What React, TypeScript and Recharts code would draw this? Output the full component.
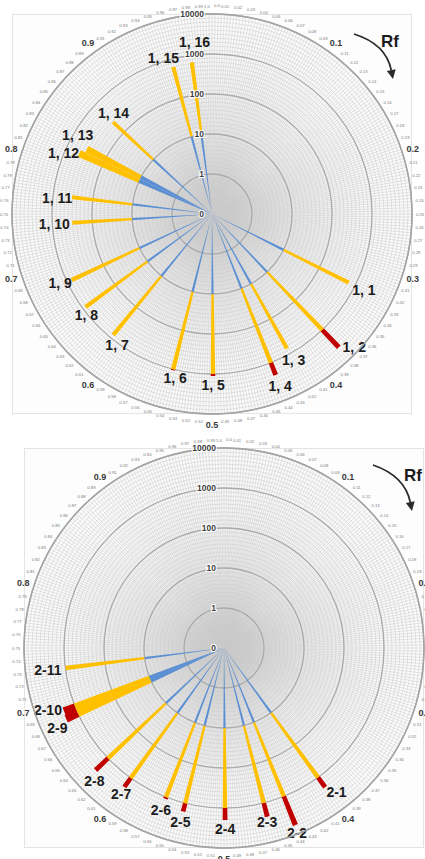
import React from 'react';
import { RadarChart, Radar, PolarGrid, PolarAngleAxis, PolarRadiusAxis, Sector } from 'recharts';

// ---------------- data ----------------
const plate1Spots = ['1, 1', '1, 2', '1, 3', '1, 4', '1, 5', '1, 6', '1, 7', '1, 8', '1, 9', '1, 10', '1, 11', '1, 12', '1, 13', '1, 14', '1, 15', '1, 16'];
const plate1Rf = [0.324, 0.379, 0.419, 0.44, 0.499, 0.539, 0.609, 0.649, 0.68, 0.74, 0.769, 0.818, 0.826, 0.869, 0.959, 0.979];
const plate1Value = [668, 3980, 708, 2110, 1120, 1060, 794, 841, 750, 316, 335, 447, 335, 237, 631, 668];
const plate1SpotWidth = [0.0045, 0.0045, 0.0045, 0.0045, 0.0045, 0.0045, 0.0045, 0.0045, 0.0045, 0.0045, 0.0045, 0.008, 0.008, 0.0045, 0.0045, 0.0045];

const plate2Spots = ['2-1', '2-2', '2-3', '2-4', '2-5', '2-6', '2-7', '2-8', '2-9', '2-10', '2-11'];
const plate2Rf = [0.4, 0.439, 0.46, 0.499, 0.539, 0.559, 0.599, 0.629, 0.683, 0.69, 0.73];
const plate2Value = [1995, 5960, 2240, 1995, 1640, 1120, 1880, 2690, 2110, 1995, 980];
const plate2SpotWidth = [0.0045, 0.0045, 0.0045, 0.0045, 0.0045, 0.0045, 0.0045, 0.0045, 0.0075, 0.0075, 0.0045];

const radiusTickLabels = ['0', '1', '10', '100', '1000', '10000'];
const rfMajorLabels = ['0.1', '0.2', '0.3', '0.4', '0.5', '0.6', '0.7', '0.8', '0.9'];

const BLUE_LIMIT = 10;
const YELLOW_LIMIT = 1000;

// ---------------- helpers ----------------
const toAxis = (v: number) => (v > 0 ? Math.log10(v) + 1 : 0);

function buildRows(names: string[], rf: number[], values: number[], widths: number[]) {
  return names.map((name, i) => ({
    name,
    rf: rf[i],
    width: widths[i],
    blueEnd: toAxis(Math.min(values[i], BLUE_LIMIT)),
    yellowEnd: toAxis(Math.min(values[i], YELLOW_LIMIT)),
    redEnd: toAxis(values[i]),
  }));
}

const plate1Rows = buildRows(plate1Spots, plate1Rf, plate1Value, plate1SpotWidth);
const plate2Rows = buildRows(plate2Spots, plate2Rf, plate2Value, plate2SpotWidth);

const OUTER = 200;
const RADIUS_MAX = radiusTickLabels.length - 1;
const angleGridTicks = Array.from({ length: 400 }, (_, i) => i / 400);
const minorRadiusTicks = Array.from({ length: RADIUS_MAX * 10 + 1 }, (_, i) => i / 10);
const majorRadiusPx = radiusTickLabels.map((_, i) => (i / RADIUS_MAX) * OUTER);

const BLUE = '#5b8fd3';
const YELLOW = '#ffc000';
const RED = '#c00000';
const FONT = 'Arial, "Liberation Sans", sans-serif';

const plate1Nudge: Record<string, [number, number]> = {
  '1, 2': [5, -11],
  '1, 6': [5, -3],
  '1, 7': [13, -1],
  '1, 8': [14, -2],
  '1, 9': [4, -4],
  '1, 11': [3, 3],
  '1, 12': [0, 7],
  '1, 13': [6, -6],
  '1, 14': [12, 1],
  '1, 15': [-7, 2],
  '1, 16': [4, -10],
};
const plate2Nudge: Record<string, [number, number]> = {
  '2-1': [3, -7],
  '2-2': [-3, -4],
  '2-3': [-3, -5],
  '2-7': [5, -5],
  '2-8': [10, 0],
  '2-9': [7, 2],
  '2-10': [0, -8],
};

function segmentShape(color: string, innerKey: string | null, outerKey: string) {
  return (props: any) => {
    const pts = props.points || [];
    return (
      <g>
        {pts.map((p: any, i: number) => {
          const row = p.payload;
          const outerVal = row[outerKey];
          const innerVal = innerKey ? row[innerKey] : 0;
          if (!(outerVal > innerVal) || !isFinite(p.radius)) return null;
          const inner = (p.radius * innerVal) / outerVal;
          const half = row.width * 180;
          return (
            <Sector
              key={i}
              cx={p.cx}
              cy={p.cy}
              innerRadius={inner}
              outerRadius={p.radius}
              startAngle={p.angle - half}
              endAngle={p.angle + half}
              fill={color}
              stroke="none"
            />
          );
        })}
      </g>
    );
  };
}

function labelShape(nudges: Record<string, [number, number]>) {
  return (props: any) => {
    const pts = props.points || [];
    return (
      <g>
        {pts.map((p: any, i: number) => {
          const rad = (-p.angle * Math.PI) / 180;
          const ux = Math.cos(rad);
          const uy = Math.sin(rad);
          const d = 9 + 9 * Math.abs(ux);
          const n = nudges[p.payload.name] || [0, 0];
          return (
            <text
              key={i}
              x={p.x + ux * d + n[0]}
              y={p.y + uy * d + n[1]}
              textAnchor="middle"
              dominantBaseline="central"
              fontFamily={FONT}
              fontWeight="bold"
              fontSize={14}
              fill="#1c1c1c"
            >
              {p.payload.name}
            </text>
          );
        })}
      </g>
    );
  };
}

function makeAngleTick(cx: number, cy: number) {
  return (props: any) => {
    const { x, y, payload } = props;
    const v = payload ? payload.value : 0;
    const k = Math.round(v * 400);
    if (k % 4 !== 0) return <g />;
    const h = k / 4;
    const dx = x - cx;
    const dy = y - cy;
    const len = Math.hypot(dx, dy) || 1;
    const ux = dx / len;
    const uy = dy / len;
    if (h === 0) {
      return (
        <g>
          <text x={x - 5} y={y} textAnchor="middle" dominantBaseline="central" fontSize={4.2} fill="#777" fontFamily={FONT}>1.0</text>
          <text x={x + 5} y={y - 1} textAnchor="middle" dominantBaseline="central" fontSize={4.2} fill="#777" fontFamily={FONT}>0.0</text>
        </g>
      );
    }
    if (h % 10 === 0) {
      return (
        <text
          x={x + ux * 3}
          y={y + uy * 3}
          textAnchor="middle"
          dominantBaseline="central"
          fontSize={9}
          fontWeight="bold"
          fill="#3a3a3a"
          fontFamily={FONT}
        >
          {rfMajorLabels[h / 10 - 1]}
        </text>
      );
    }
    return (
      <text x={x} y={y} textAnchor="middle" dominantBaseline="central" fontSize={4.2} fill="#7a7a7a" fontFamily={FONT}>
        {(h / 100).toFixed(2)}
      </text>
    );
  };
}

const RadiusTick = (props: any) => {
  const { x, y, payload } = props;
  const v = payload ? payload.value : 0;
  const k = Math.round(v * 10);
  if (k % 10 !== 0) return <g />;
  const label = radiusTickLabels[k / 10];
  return (
    <text
      x={x - 8}
      y={y}
      textAnchor="end"
      dominantBaseline="central"
      fontSize={8.5}
      fontWeight="bold"
      fill="#404040"
      stroke="#ffffff"
      strokeWidth={2}
      paintOrder="stroke"
      fontFamily={FONT}
    >
      {label}
    </text>
  );
};

function PolarPlate({ rows, cx, cy, top, height, nudges }: any) {
  return (
    <div style={{ position: 'absolute', left: 0, top, width: 425, height, overflow: 'hidden' }}>
      <div
        style={{
          position: 'absolute',
          left: cx - 200,
          top: cy - 200,
          width: 400,
          height: 400,
          background:
            'radial-gradient(circle at center, #bdbdbd 0px, #cfcfcf 18px, #dedede 40px, #e7e7e7 62px, #eeeeee 82px, #f4f4f4 120px, #f9f9f9 160px, #fbfbfb 199px, #fdfdfd 201px)',
          border: '1px solid #e4e4e4',
          boxSizing: 'border-box',
        }}
      />
      <div style={{ position: 'absolute', left: 0, top: 0 }}>
        <RadarChart
          width={425}
          height={height}
          data={rows}
          cx={cx}
          cy={cy}
          innerRadius={0}
          outerRadius={OUTER}
          startAngle={90}
          endAngle={-270}
          margin={{ top: 0, right: 0, bottom: 0, left: 0 }}
        >
          <PolarGrid gridType="circle" stroke="#cacaca" strokeWidth={0.5} />
          <PolarGrid gridType="circle" radialLines={false} polarRadius={majorRadiusPx} stroke="#ababab" strokeWidth={1.3} />
          <PolarAngleAxis
            dataKey="rf"
            type="number"
            domain={[0, 1]}
            ticks={angleGridTicks}
            tick={makeAngleTick(cx, cy)}
            tickLine={false}
            tickSize={8}
            axisLine={{ stroke: '#a4a4a4', strokeWidth: 1.5 }}
          />
          <Radar dataKey="redEnd" shape={segmentShape(RED, 'yellowEnd', 'redEnd')} isAnimationActive={false} />
          <Radar dataKey="yellowEnd" shape={segmentShape(YELLOW, 'blueEnd', 'yellowEnd')} isAnimationActive={false} />
          <Radar dataKey="blueEnd" shape={segmentShape(BLUE, null, 'blueEnd')} isAnimationActive={false} />
          <Radar dataKey="redEnd" shape={labelShape(nudges)} isAnimationActive={false} />
          <PolarRadiusAxis
            type="number"
            domain={[0, RADIUS_MAX]}
            ticks={minorRadiusTicks}
            angle={90}
            tick={RadiusTick}
            axisLine={false}
            tickLine={false}
          />
        </RadarChart>
      </div>
    </div>
  );
}

function RfArrow({ sx, sy, ex, ey, qx, qy, lx, ly }: any) {
  const ang = Math.atan2(ey - qy, ex - qx);
  const hl = 9;
  const hw = 4.5;
  const bx = ex - Math.cos(ang) * hl;
  const by = ey - Math.sin(ang) * hl;
  const px = -Math.sin(ang);
  const py = Math.cos(ang);
  return (
    <g>
      <path d={`M ${sx} ${sy} Q ${qx} ${qy} ${bx} ${by}`} fill="none" stroke="#2a2a2a" strokeWidth={1.8} />
      <polygon points={`${ex},${ey} ${bx + px * hw},${by + py * hw} ${bx - px * hw},${by - py * hw}`} fill="#2a2a2a" />
      <text x={lx} y={ly} textAnchor="middle" dominantBaseline="central" fontFamily={FONT} fontWeight="bold" fontSize={17} fill="#1c1c1c">
        Rf
      </text>
    </g>
  );
}

export default function App() {
  return (
    <div style={{ position: 'absolute', left: 0, top: 0, width: 425, height: 859, background: '#ffffff', overflow: 'hidden' }}>
      <PolarPlate rows={plate1Rows} cx={212} cy={214} top={0} height={430} nudges={plate1Nudge} />
      <PolarPlate rows={plate2Rows} cx={224} cy={218} top={430} height={429} nudges={plate2Nudge} />
      <svg width={425} height={859} style={{ position: 'absolute', left: 0, top: 0, pointerEvents: 'none' }}>
        <RfArrow sx={354} sy={34} qx={386} qy={44} ex={393} ey={79} lx={390} ly={41} />
        <RfArrow sx={373} sy={465} qx={405} qy={476} ex={412} ey={511} lx={413} ly={475} />
      </svg>
    </div>
  );
}
